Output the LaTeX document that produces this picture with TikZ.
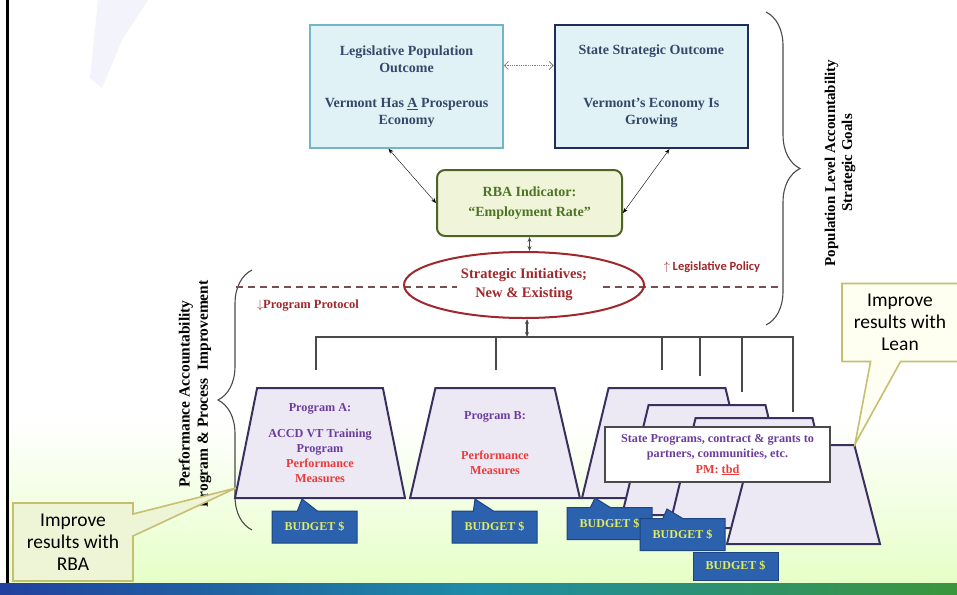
\documentclass[tikz,border=0pt]{standalone}
\usepackage{fontspec}
\setmainfont{Liberation Serif}
\newfontfamily\calib{Carlito}
\usepackage{xcolor}
\usepackage{tikz}
\usetikzlibrary{arrows.meta,positioning,shapes.geometric,shapes.callouts,decorations.pathreplacing,calc}

\definecolor{outText}{HTML}{34496A}
\definecolor{outFill}{HTML}{E0F2F5}
\definecolor{lpoLine}{HTML}{72B6C6}
\definecolor{ssoLine}{HTML}{1E2D5A}
\definecolor{rbaFill}{HTML}{F0F5D9}
\definecolor{rbaLine}{HTML}{4F6228}
\definecolor{rbaText}{HTML}{4C7424}
\definecolor{initRed}{HTML}{A0282C}
\definecolor{dashCol}{HTML}{7A4E50}
\definecolor{trapFill}{HTML}{ECE9F5}
\definecolor{trapLine}{HTML}{3A305E}
\definecolor{progText}{HTML}{6C3D9C}
\definecolor{measRed}{HTML}{EC3A3A}
\definecolor{budFill}{HTML}{2B61AD}
\definecolor{budLine}{HTML}{1D4585}
\definecolor{budText}{HTML}{E2EC5E}
\definecolor{noteLine}{HTML}{C6BF72}
\definecolor{noteGreen}{HTML}{EEF4D6}
\definecolor{noteYellow}{HTML}{FEFEF1}
\definecolor{treeCol}{HTML}{4A4A4A}
\definecolor{smear}{HTML}{E8EAF8}
\definecolor{barBlue}{HTML}{22409E}
\definecolor{barTeal}{HTML}{1E8CA6}
\definecolor{barGreen}{HTML}{3A963C}

\begin{document}
\begin{tikzpicture}[
        x = 1pt, y = -1pt, % pixel like coordinates
        > = {Stealth[length=5pt,width=4pt]}, % arrow head style
        semithick,
        outbox/.style = {rectangle, fill = outFill, minimum width = 193pt,
            minimum height = 123pt, inner sep = 0pt, align = center,
            text = outText, font = \bfseries\fontsize{14}{17}\selectfont},
        link/.style = {<->, black, thin},
        dotlink/.style = {{Straight Barb[length=4pt]}-{Straight Barb[length=4pt]}, gray, densely dotted, thick},
        stem/.style = {<->, treeCol, line width = 1.1pt},
        tree/.style = {treeCol, line width = 1.2pt},
        progshape/.style = {trapezium, trapezium stretches = true,
            draw = trapLine, line width = 2pt, fill = trapFill, inner sep = 2pt,
            align = center, text = progText,
            font = \bfseries\fontsize{12.2}{15}\selectfont},
        budget/.style = {rectangle, draw = budLine, line width = 1pt, fill = budFill,
            text = budText, minimum width = 85pt, minimum height = 32pt, inner sep = 0pt,
            font = \bfseries\fontsize{12}{12}\selectfont},
        budgetcall/.style = {budget, rectangle callout, callout pointer width = 20pt},
        improve/.style = {rectangle callout, draw = noteLine, line width = 1.6pt,
            minimum height = 78pt, inner sep = 0pt, align = center,
            font = \calib\fontsize{19.5}{22}\selectfont},
        brace/.style = {decorate, decoration = {brace, amplitude = 34pt},
            draw = treeCol, line width = 1.1pt},
        sidelabel/.style = {rotate = 90, align = center,
            font = \bfseries\fontsize{15}{17}\selectfont}
    ]
    \useasboundingbox (0,0) rectangle (957,594);

    % sfondo
    \fill[white] (0,0) rectangle (957,594);
    \shade[top color = white, bottom color = green!45!yellow!22] (8,420) rectangle (957,583);
    \fill[smear, fill opacity = 0.5] (98,0) -- (148,0) -- (122,40) -- (102,88) -- (90,78) -- cycle;
    \draw[black, line width = 3pt] (7.5,0) -- (7.5,583);

    % graffe e titoli laterali
    \draw[brace] (766,12) -- (766,325);
    \node[sidelabel] (popLabel) at (840,163)
        {Population Level Accountability\\Strategic Goals};
    \draw[brace] (252,530) -- (252,270);
    \node[sidelabel, font = \bfseries\fontsize{15.5}{18}\selectfont] (perfLabel) at (195,394)
        {Performance Accountability\\Program \& Process\ \ Improvement};

    % risultati di popolazione
    \node[outbox, draw = lpoLine, line width = 1.6pt] (lpo) at (406.5,86.5)
        {Legislative Population\\Outcome\\[18pt]Vermont Has \underline{A} Prosperous\\Economy};
    \node[outbox, draw = ssoLine, line width = 2.2pt] (sso) [right = 50pt of lpo]
        {State Strategic Outcome\\[36pt]Vermont’s Economy Is\\Growing};
    \draw[dotlink] ([yshift=21pt]lpo.east) -- ([yshift=21pt]sso.west);

    % indicatore
    \node[rectangle, rounded corners = 8pt, draw = rbaLine, line width = 2pt, fill = rbaFill,
        minimum width = 185pt, minimum height = 66pt, align = center, text = rbaText,
        font = \bfseries\fontsize{14}{20}\selectfont] (rba) at (529.5,203)
        {RBA Indicator:\\“Employment Rate”};
    \draw[link] ([xshift=-18pt]lpo.south) -- (rba.west);
    \draw[link] ([xshift=18pt]sso.south) -- ([yshift=-10pt]rba.east);

    % iniziative strategiche
    \coordinate (polL) at (236,287);
    \coordinate (polLm) at (457,287);
    \coordinate (polRm) at (603,287);
    \coordinate (polR) at (780,287);
    \draw[dashCol, line width = 1.6pt, dash pattern = on 7pt off 5pt] (polL) -- (polLm);
    \draw[dashCol, line width = 1.6pt, dash pattern = on 7pt off 5pt] (polRm) -- (polR);
    \node[ellipse, draw = initRed, line width = 2pt, minimum width = 240pt, minimum height = 66pt,
        inner sep = 0pt, align = center, text = initRed,
        font = \bfseries\fontsize{14.5}{19}\selectfont] (ell) at (524,285)
        {Strategic Initiatives;\\New \& Existing};
    \draw[stem] (rba.south) -- (rba.south |- ell.north);
    \node[text = initRed, font = \calib\bfseries\fontsize{12.5}{14}\selectfont] (legPol) at (712,267)
        {$\uparrow$ Legislative Policy};
    \node[text = initRed, font = \bfseries\fontsize{12.5}{14}\selectfont] (progProt) at (308,306)
        {$\downarrow$Program Protocol};

    % albero dei programmi
    \coordinate (bus) at (527,337);
    \coordinate (dA) at (316,370);
    \coordinate (dB) at (496,370);
    \coordinate (dC1) at (662,370);
    \coordinate (dC2) at (700,376);
    \coordinate (dC3) at (742,392);
    \coordinate (dC4) at (793,412);
    \draw[stem] (ell.south -| bus) -- (bus);
    \draw[tree] (dA) |- (bus) -| (dC4);
    \draw[tree] (dB |- bus) -- (dB);
    \draw[tree] (dC1 |- bus) -- (dC1);
    \draw[tree] (dC2 |- bus) -- (dC2);
    \draw[tree] (dC3 |- bus) -- (dC3);

    % programmi
    \node[progshape, trapezium left angle = 77.2, trapezium right angle = 77.2,
        minimum width = 170pt, minimum height = 110pt] (progA) at (320,443)
        {Program A:\\[11pt]ACCD VT Training\\Program\\\textcolor{measRed}{Performance}\\\textcolor{measRed}{Measures}};
    \node[progshape, trapezium left angle = 77.2, trapezium right angle = 77.2,
        minimum width = 170pt, minimum height = 110pt] (progB) at (495,443)
        {Program B:\\[25pt]\textcolor{measRed}{Performance}\\\textcolor{measRed}{Measures}};
    \node[progshape, trapezium left angle = 77.2, trapezium right angle = 77.2,
        minimum width = 170pt, minimum height = 110pt] (progC1) at (667,443) {};
    \node[progshape, trapezium left angle = 77.2, trapezium right angle = 77.2,
        minimum width = 170pt, minimum height = 110pt] (progC2) at (707,460) {};
    \node[progshape, trapezium left angle = 77.2, trapezium right angle = 77.2,
        minimum width = 170pt, minimum height = 110pt] (progC3) at (754,473) {};
    \node[progshape, trapezium left angle = 75.8, trapezium right angle = 75.8,
        minimum width = 153pt, minimum height = 99pt] (progC4) at (803.5,494.5) {};

    \node[rectangle, draw = treeCol, line width = 1.2pt, fill = white,
        minimum width = 225pt, minimum height = 55pt, inner sep = 0pt, align = center,
        text = progText, font = \bfseries\fontsize{12.2}{15.5}\selectfont] (stateProg) at (717.5,454.5)
        {State Programs, contract \& grants to\\partners, communities, etc.\\\textcolor{measRed}{PM: \underline{tbd}}};

    % budget
    \node[budgetcall, callout absolute pointer = {(302,499)}] (budA) at (314.5,527) {BUDGET \$};
    \node[budgetcall, callout absolute pointer = {(475,499)}] (budB) at (494.5,527) {BUDGET \$};
    \node[budgetcall, callout absolute pointer = {(595,498)}] (budC1) at (609.5,523.5) {BUDGET \$};
    \node[budgetcall, callout absolute pointer = {(667,509)}] (budC2) at (682.5,534.5) {BUDGET \$};
    \node[budget, minimum height = 28pt] (budC3) at (735.5,566) {BUDGET \$};

    % note di miglioramento
    \node[improve, fill = noteGreen, minimum width = 120pt, callout pointer width = 22pt,
        callout absolute pointer = {(236,488)}] (rbaNote) at (73,542)
        {Improve\\results with\\RBA};
    \node[improve, fill = noteYellow, minimum width = 116pt, callout pointer width = 30pt,
        callout absolute pointer = {(855,444)}] (leanNote) at (900,322.5)
        {Improve\\results with\\Lean};

    % barra in basso
    \shade[left color = barBlue, right color = barGreen, middle color = barTeal]
        (0,583) rectangle (957,594);
\end{tikzpicture}
\end{document}
